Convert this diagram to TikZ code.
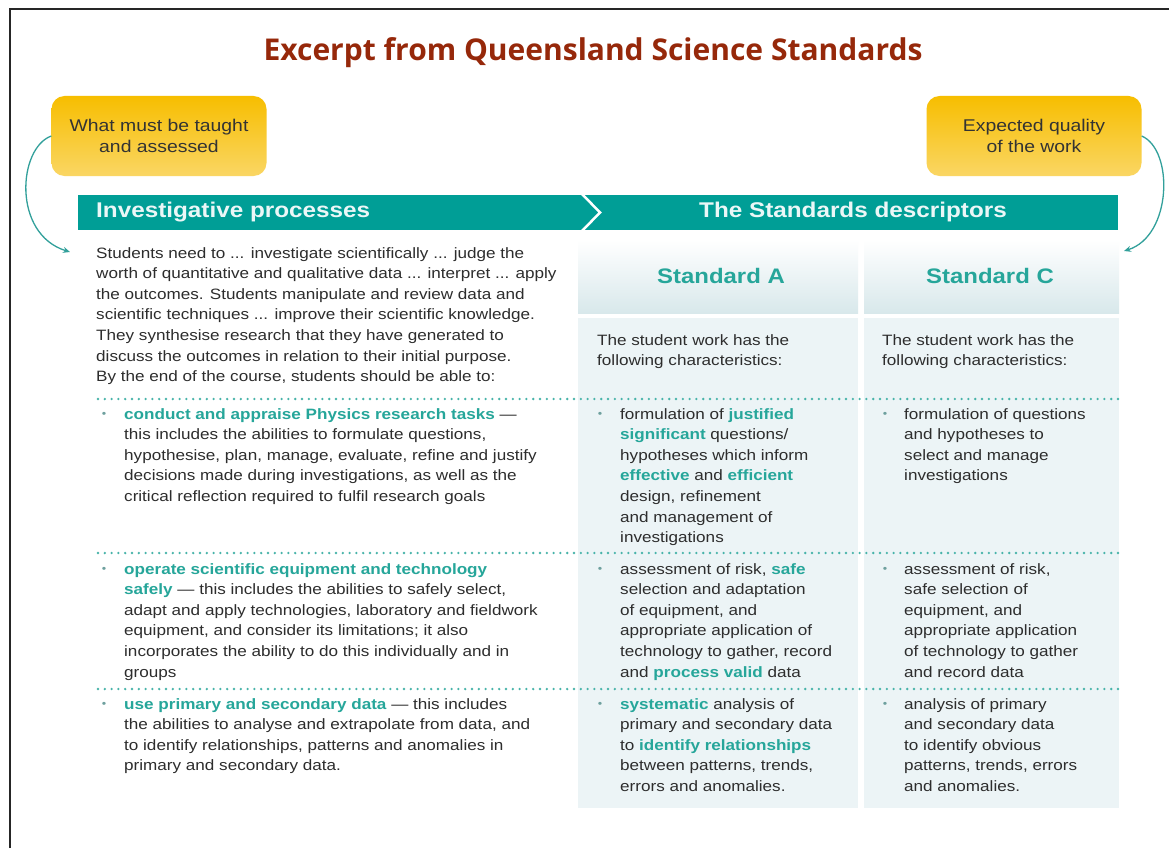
\documentclass[tikz,border=0pt]{standalone}
\usepackage{fontspec}
\setmainfont{Liberation Sans}[FakeStretch=1.14]
\newfontfamily\titlefont{Open Sans}
\usetikzlibrary{arrows.meta}
\definecolor{bannerteal}{RGB}{0,158,150}
\definecolor{hiteal}{RGB}{38,166,154}
\definecolor{arrteal}{RGB}{50,160,155}
\definecolor{ytop}{RGB}{247,190,0}
\definecolor{ybot}{RGB}{250,214,100}
\definecolor{titlered}{RGB}{150,40,10}
\definecolor{bodytxt}{RGB}{45,45,45}
\definecolor{colfill}{RGB}{236,244,246}
\definecolor{headbot}{RGB}{216,232,235}
\definecolor{bulcol}{RGB}{110,160,158}
\newcommand\hlt[1]{\textbf{\textcolor{hiteal}{#1}}}
\tikzset{
  ybox/.style={rounded corners=13pt, top color=ytop, bottom color=ybot, draw=none,
    minimum width=215pt, minimum height=80pt, align=center, text=black!80,
    font=\fontsize{17}{21}\selectfont},
  body/.style={anchor=north west, inner sep=0pt, align=left, text=bodytxt,
    font=\fontsize{15}{20.6}\selectfont},
  bultxt/.style={anchor=center, inner sep=0pt, text=bulcol, font=\fontsize{11}{12}\selectfont},
  dotline/.style={draw=hiteal!85, line width=2.6pt, line cap=round, dash pattern=on 0pt off 6.8pt},
  arr/.style={draw=arrteal, line width=1.3pt, -{Stealth[length=7pt,width=6pt]}},
  stdhead/.style={text=hiteal, font=\fontsize{21}{24}\selectfont\bfseries},
}
\begin{document}
\begin{tikzpicture}[x=1pt,y=-1pt]
\useasboundingbox (0,0) rectangle (1169,848);
\fill[white] (0,0) rectangle (1169,848);
% frame
\draw[line width=2.2pt, black!85] (10,848) -- (10,9) -- (1169,9);
% title
\node[font=\titlefont\fontsize{30}{32}\selectfont\bfseries, text=titlered] (title) at (593,53) {Excerpt from Queensland Science Standards};
% yellow boxes
\node[ybox] (ytl) at (159,136) {What must be taught\\and assessed};
\node[ybox] (ytr) at (1034,136) {Expected quality\\of the work};
% banner
\fill[bannerteal] (78,195) rectangle (1118,230);
\draw[white, line width=2.5pt] (582,194) -- (600,212.5) -- (582,231);
\node[anchor=west, inner sep=0pt, text=white!92!bannerteal, font=\fontsize{21.3}{24}\selectfont\bfseries] (ip) at (96,212) {Investigative processes};
\node[text=white!92!bannerteal, font=\fontsize{21.3}{24}\selectfont\bfseries] (sd) at (853,212) {The Standards descriptors};
% column backgrounds
\shade[top color=white, bottom color=headbot] (578,240) rectangle (858,313);
\shade[top color=white, bottom color=headbot] (864,240) rectangle (1119,313);
\fill[colfill] (578,318) rectangle (858,808);
\fill[colfill] (864,318) rectangle (1119,808);
\node[stdhead] (sa) at (721,276) {Standard A};
\node[stdhead] (sc) at (990,276) {Standard C};
\node[body] (sah) at (597,334) {The student work has the\\following characteristics:};
\node[body] (sch) at (882,334) {The student work has the\\following characteristics:};
% intro paragraph
\node[body] (para) at (96,247) {Students need to ... investigate scientifically ... judge the\\
worth of quantitative and qualitative data ... interpret ... apply\\
the outcomes. Students manipulate and review data and\\
scientific techniques ... improve their scientific knowledge.\\
They synthesise research that they have generated to\\
discuss the outcomes in relation to their initial purpose.\\
By the end of the course, students should be able to:};
% curved arrows
\coordinate (la) at (70,252);
\coordinate (ra) at (1124,251);
\draw[arr] (ytl.west) .. controls (18,148) and (12,234) .. (la);
\draw[arr] (ytr.east) .. controls (1174,150) and (1172,236) .. (ra);
% dotted separators
\draw[dotline] (98,399) -- (1118,399);
\draw[dotline] (98,553) -- (1118,553);
\draw[dotline] (98,689) -- (1118,689);
% row 1
\node[bultxt] (b1l) at (104,415) {\textbullet};
\node[body] (r1l) at (124,408) {\hlt{conduct and appraise Physics research tasks} ---\\
this includes the abilities to formulate questions,\\
hypothesise, plan, manage, evaluate, refine and justify\\
decisions made during investigations, as well as the\\
critical reflection required to fulfil research goals};
\node[bultxt] (b1a) at (600,415) {\textbullet};
\node[body] (r1a) at (620,408) {formulation of \hlt{justified}\\
\hlt{significant} questions/\\
hypotheses which inform\\
\hlt{effective} and \hlt{efficient}\\
design, refinement\\
and management of\\
investigations};
\node[bultxt] (b1c) at (885,415) {\textbullet};
\node[body] (r1c) at (904,408) {formulation of questions\\
and hypotheses to\\
select and manage\\
investigations};
% row 2
\node[bultxt] (b2l) at (104,570) {\textbullet};
\node[body] (r2l) at (124,563) {\hlt{operate scientific equipment and technology}\\
\hlt{safely} --- this includes the abilities to safely select,\\
adapt and apply technologies, laboratory and fieldwork\\
equipment, and consider its limitations; it also\\
incorporates the ability to do this individually and in\\
groups};
\node[bultxt] (b2a) at (600,570) {\textbullet};
\node[body] (r2a) at (620,563) {assessment of risk, \hlt{safe}\\
selection and adaptation\\
of equipment, and\\
appropriate application of\\
technology to gather, record\\
and \hlt{process valid} data};
\node[bultxt] (b2c) at (885,570) {\textbullet};
\node[body] (r2c) at (904,563) {assessment of risk,\\
safe selection of\\
equipment, and\\
appropriate application\\
of technology to gather\\
and record data};
% row 3
\node[bultxt] (b3l) at (104,705) {\textbullet};
\node[body] (r3l) at (124,698) {\hlt{use primary and secondary data} --- this includes\\
the abilities to analyse and extrapolate from data, and\\
to identify relationships, patterns and anomalies in\\
primary and secondary data.};
\node[bultxt] (b3a) at (600,705) {\textbullet};
\node[body] (r3a) at (620,698) {\hlt{systematic} analysis of\\
primary and secondary data\\
to \hlt{identify relationships}\\
between patterns, trends,\\
errors and anomalies.};
\node[bultxt] (b3c) at (885,705) {\textbullet};
\node[body] (r3c) at (904,698) {analysis of primary\\
and secondary data\\
to identify obvious\\
patterns, trends, errors\\
and anomalies.};
\end{tikzpicture}
\end{document}
